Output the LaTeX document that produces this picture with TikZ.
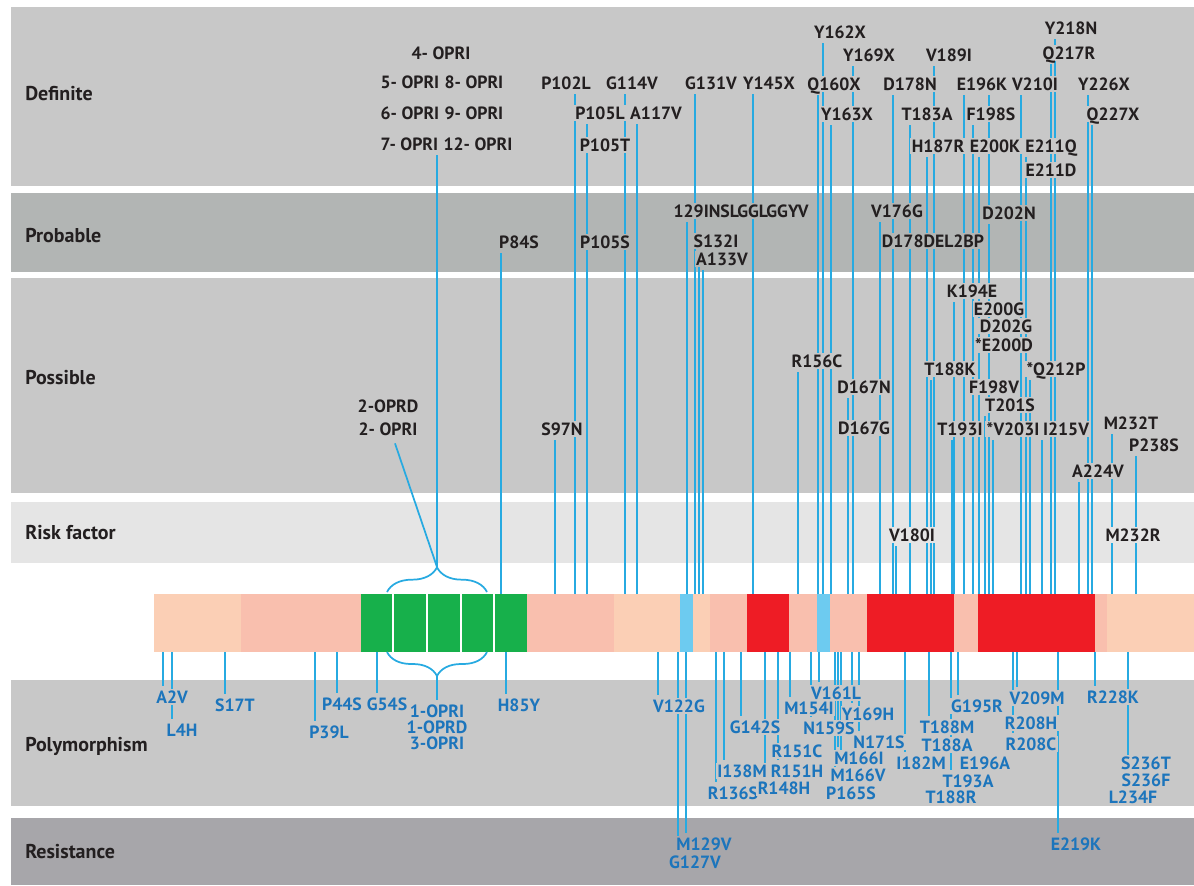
\documentclass[tikz,border=0pt]{standalone}
\usepackage{fontspec}
\setmainfont{PT Sans}
\usetikzlibrary{decorations.pathreplacing}
\pgfdeclarelayer{bands}
\pgfdeclarelayer{lines}
\pgfsetlayers{bands,lines,main}
\definecolor{defgray}{HTML}{C8C8C8}
\definecolor{probgray}{HTML}{B2B5B4}
\definecolor{riskgray}{HTML}{E5E5E5}
\definecolor{resgray}{HTML}{A7A6AA}
\definecolor{peach}{HTML}{FBCFB5}
\definecolor{salmon}{HTML}{F9BFAE}
\definecolor{prpgreen}{HTML}{17B04B}
\definecolor{prpred}{HTML}{EE1C25}
\definecolor{prpblue}{HTML}{6DCBF0}
\definecolor{mutline}{HTML}{27AAE1}
\definecolor{darktext}{HTML}{231F20}
\definecolor{bluetext}{HTML}{1C75BC}
\begin{document}
\begin{tikzpicture}[x=0.75pt,y=-0.75pt,
    lab/.style={font=\fontsize{13.3}{15}\selectfont\bfseries, text=darktext,
      inner xsep=1pt, inner ysep=1.5pt, text height=9.2pt, text depth=0pt},
    plab/.style={lab, text=bluetext},
    bandlab/.style={font=\fontsize{15}{17}\selectfont\bfseries, text=darktext,
      anchor=west, inner sep=0pt},
    mut/.style={draw=mutline, line width=1.3pt},
    curly/.style={draw=mutline, line width=1.3pt, decorate},
  ]
    % bands
    \begin{pgfonlayer}{bands}
        \fill[white] (0,0) rectangle (1194,885);
        \fill[defgray] (11,7) rectangle (1194,186);
        \fill[probgray] (11,193) rectangle (1194,272);
        \fill[defgray] (11,278) rectangle (1194,493);
        \fill[riskgray] (11,502) rectangle (1194,563);
        \fill[defgray] (11,680) rectangle (1194,806);
        \fill[resgray] (11,818) rectangle (1194,885);
    \end{pgfonlayer}
    \useasboundingbox (0,0) rectangle (1194,885);

    \node[bandlab] (ldef) at (25,94) {Definite};
    \node[bandlab] (lprob) at (25,236) {Probable};
    \node[bandlab] (lpos) at (25,378) {Possible};
    \node[bandlab] (lrisk) at (25,533) {Risk factor};
    \node[bandlab] (lpol) at (25,746) {Polymorphism};
    \node[bandlab] (lres) at (25,852) {Resistance};

    % protein bar
    \foreach \a/\b/\c in {154/241/peach, 241/361/salmon, 361/527/prpgreen, 527/614/salmon,
        614/680/peach, 680/693/prpblue, 693/710/peach, 710/747/salmon, 747/789/prpred,
        789/817/salmon, 817/830/prpblue, 830/867/salmon, 867/954/prpred, 954/978/salmon,
        978/1095/prpred, 1095/1107/salmon, 1107/1194/peach}
        {
            \fill[\c] (\a,594) rectangle (\b,652);
        }
    \foreach \x in {393,427,461,494}
        {
            \draw[white, line width=1.5pt] (\x,594) -- (\x,652);
        }

    % definite
    \foreach \mx/\lx/\ly/\t/\n in {575/566/83/P102L/p102l, 625/632/83/G114V/g114v,
        695/711/83/G131V/g131v, 753/769/83/Y145X/y145x, 587/600/113/P105L/p105l,
        637/656/113/A117V/a117v, 587/605/145/P105T/p105t, 823/840/32/Y162X/y162x,
        853/869/55/Y169X/y169x, 934/949/55/V189I/v189i, 818/834/84/Q160X/q160x,
        893/910/84/D178N/d178n, 831/847/114/Y163X/y163x, 910/927/114/T183A/t183a,
        927/938/146/H187R/h187r, 1055/1071/28/Y218N/y218n, 1051/1069/53/Q217R/q217r,
        964/982/84/E196K/e196k, 1021/1035/84/V210I/v210i, 1088/1104/84/Y226X/y226x,
        973/991/114/F198S/f198s, 1092/1113/114/Q227X/q227x, 979/995/146/E200K/e200k,
        1026/1051/146/E211Q/e211q, 1026/1051/170/E211D/e211d}
        {
            \node[lab, fill=defgray] (\n) at (\lx,\ly) {\t};
            \coordinate (\n-b) at (\mx,594);
            \begin{pgfonlayer}{lines}
                \draw[mut, shorten <=2pt] (\n-b |- \n.south) -- (\n-b);
            \end{pgfonlayer}
        }

    % probable
    \foreach \mx/\lx/\ly/\t/\n in {501/519/242/P84S/p84s, 587/605/242/P105S/p105s,
        687/741/211/129INSLGGLGGYV/ins129, 699/716/241/S132I/s132i,
        703/722/259/A133V/a133v, 880/897/211/V176G/v176g,
        893/933/241/D178DEL2BP/d178del, 989/1009/213/D202N/d202n}
        {
            \node[lab, fill=probgray] (\n) at (\lx,\ly) {\t};
            \coordinate (\n-b) at (\mx,594);
            \begin{pgfonlayer}{lines}
                \draw[mut, shorten <=2pt] (\n-b |- \n.south) -- (\n-b);
            \end{pgfonlayer}
        }
    \begin{pgfonlayer}{lines}
        \draw[mut, shorten <=2pt] (d202n-b |- e196k.south) -- (d202n-b |- d202n.north);
    \end{pgfonlayer}

    % possible
    \foreach \mx/\lx/\ly/\t/\n in {555/562/429/S97N/s97n, 798/817/361/R156C/r156c,
        848/864/387/D167N/d167n, 848/864/428/D167G/d167g, 954/972/291/K194E/k194e,
        979/999/309/E200G/e200g, 989/1006/326/D202G/d202g, 979/1004/345/*E200D/e200d,
        931/950/369/T188K/t188k, 1030/1056/369/*Q212P/q212p, 973/994/387/F198V/f198v,
        985/1010/405/T201S/t201s, 952/960/429/T193I/t193i, 993/1013/429/*V203I/v203i,
        1042/1066/429/I215V/i215v, 1112/1131/423/M232T/m232t,
        1136/1154/445/P238S/p238s, 1079/1098/471/A224V/a224v}
        {
            \node[lab, fill=defgray] (\n) at (\lx,\ly) {\t};
            \coordinate (\n-b) at (\mx,594);
            \begin{pgfonlayer}{lines}
                \draw[mut, shorten <=2pt] (\n-b |- \n.south) -- (\n-b);
            \end{pgfonlayer}
        }

    % risk factor
    \foreach \mx/\lx/\ly/\t/\n in {896/912/535/V180I/v180i, 1112/1133/535/M232R/m232r}
        {
            \node[lab, fill=riskgray] (\n) at (\lx,\ly) {\t};
            \coordinate (\n-b) at (\mx,594);
            \begin{pgfonlayer}{lines}
                \draw[mut, shorten <=2pt] (\n-b |- \n.south) -- (\n-b);
            \end{pgfonlayer}
        }

    % polymorphism
    \foreach \mx/\lx/\ly/\t/\n in {163/172/697/A2V/a2v, 172/182/730/L4H/l4h,
        225/235/705/S17T/s17t, 315/329/732/P39L/p39l, 337/342/704/P44S/p44s,
        377/387/704/G54S/g54s, 506/519/705/H85Y/h85y, 658/679/706/V122G/v122g,
        741/755/727/G142S/g142s, 790/809/708/M154I/m154i, 819/836/693/V161L/v161l,
        811/829/728/N159S/n159s, 778/797/751/R151C/r151c, 778/797/771/R151H/r151h,
        724/742/771/I138M/i138m, 716/733/793/R136S/r136s, 765/784/788/R148H/r148h,
        838/859/758/M166I/m166i, 841/858/775/M166V/m166v, 835/851/793/P165S/p165s,
        852/868/714/Y169H/y169h, 859/879/742/N171S/n171s, 905/921/763/I182M/i182m,
        929/947/727/T188M/t188m, 951/968/781/T193A/t193a, 958/977/706/G195R/g195r,
        1017/1037/698/V209M/v209m, 1013/1031/723/R208H/r208h,
        1013/1031/744/R208C/r208c, 1095/1113/697/R228K/r228k,
        1128/1146/763/S236T/s236t, 1128/1146/780/S236F/s236f}
        {
            \node[plab, fill=defgray] (\n) at (\lx,\ly) {\t};
            \coordinate (\n-b) at (\mx,652);
            \begin{pgfonlayer}{lines}
                \draw[mut, shorten >=2pt] (\n-b) -- (\n-b |- \n.north);
            \end{pgfonlayer}
        }
    \node[plab, fill=defgray] (t188a) at (947,745) {T188A};
    \node[plab, fill=defgray] (t188r) at (951,797) {T188R};
    \node[plab, fill=defgray] (e196a) at (985,763) {E196A};
    \node[plab, fill=defgray] (l234f) at (1133,797) {L234F};

    % resistance
    \foreach \mx/\lx/\ly/\t/\n in {678/695/862/G127V/g127v, 686/704/844/M129V/m129v,
        1058/1076/844/E219K/e219k}
        {
            \node[plab, fill=resgray] (\n) at (\lx,\ly) {\t};
            \coordinate (\n-b) at (\mx,652);
            \begin{pgfonlayer}{lines}
                \draw[mut, shorten >=2pt] (\n-b) -- (\n-b |- \n.north);
            \end{pgfonlayer}
        }

    % octapeptide repeats
    \node[lab, fill=defgray] (o4) at (441,53) {4- OPRI};
    \node[lab, fill=defgray, anchor=west] (o5) at (379,82) {5- OPRI};
    \node[lab, fill=defgray, anchor=west] (o8) at (443,82) {8- OPRI};
    \node[lab, fill=defgray, anchor=west] (o6) at (379,113) {6- OPRI};
    \node[lab, fill=defgray, anchor=west] (o9) at (443,113) {9- OPRI};
    \node[lab, fill=defgray, anchor=west] (o7) at (379,144) {7- OPRI};
    \node[lab, fill=defgray, anchor=west] (o12) at (442,144) {12- OPRI};
    \node[lab, fill=defgray] (o2d) at (388,406) {2-OPRD};
    \node[lab, fill=defgray] (o2i) at (388,429) {2- OPRI};
    \node[plab, fill=defgray] (o1i) at (437,711) {1-OPRI};
    \node[plab, fill=defgray] (o1d) at (437,727) {1-OPRD};
    \node[plab, fill=defgray] (o3i) at (437,743) {3-OPRI};

    \coordinate (utip) at (437,567);
    \coordinate (ltip) at (437,676);
    \draw[curly, decoration={brace, amplitude=18.5pt}] (387,592) -- (487,592);
    \draw[curly, decoration={brace, amplitude=18pt}] (487,652) -- (387,652);
    \begin{pgfonlayer}{lines}
        \draw[mut, shorten <=2pt] (utip |- o7.south) -- (utip);
    \end{pgfonlayer}
    \draw[mut] ([shift={(7,6)}]o2i.south) -- (utip);
    \draw[mut, shorten >=2pt] (ltip) -- (o1i.north);
\end{tikzpicture}
\end{document}
